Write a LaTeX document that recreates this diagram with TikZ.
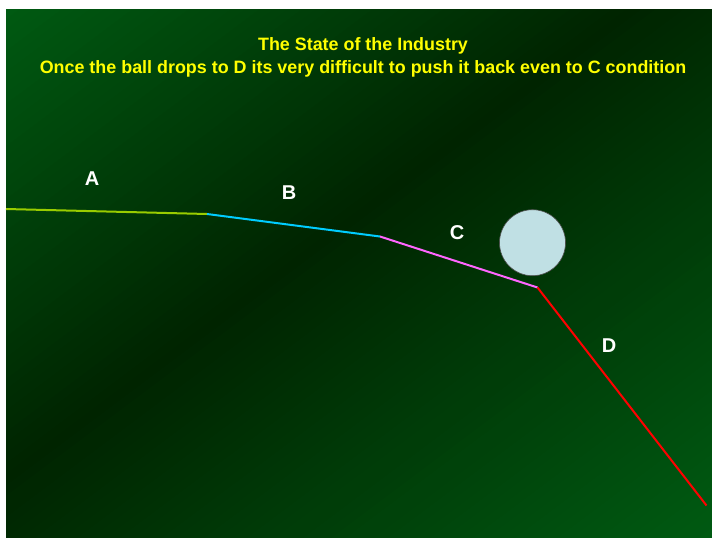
\documentclass[tikz,border=0pt]{standalone}
\usepackage{fontspec}
\setmainfont{Liberation Sans}
\definecolor{bgbright}{RGB}{0,90,18}
\definecolor{bgdark}{RGB}{0,36,0}
\definecolor{segA}{RGB}{153,204,0}
\definecolor{segB}{RGB}{0,204,255}
\definecolor{segC}{RGB}{255,102,255}
\definecolor{segD}{RGB}{255,0,0}
\definecolor{ballfill}{RGB}{192,224,228}
\definecolor{titleyellow}{RGB}{255,255,0}
\begin{document}
\begin{tikzpicture}[x=1pt,y=-1pt,
  seg/.style={line width=2pt},
  lab/.style={text=white,font=\bfseries\fontsize{20}{24}\selectfont,inner sep=0pt},
  ttl/.style={text=titleyellow,font=\bfseries\fontsize{17.9}{21}\selectfont,inner sep=0pt,align=center}]
\useasboundingbox (0,0) rectangle (712,538);
\fill[white] (0,0) rectangle (712,538);
\begin{scope}[shift={(6pt,-9pt)},x=706pt,y=-529pt]
  \clip (0,0) rectangle (1,1);
  \foreach \i in {0,...,99}{
    \pgfmathsetmacro{\ua}{\i*0.02}
    \pgfmathsetmacro{\ub}{\ua+0.026}
    \pgfmathsetmacro{\um}{\ua+0.01}
    \pgfmathsetmacro{\p}{\um<0.88 ? 100*(1-\um/0.88) : 100*(\um-0.88)/1.12}
    \fill[bgbright!\p!bgdark] (\ua+1,-1) -- (\ub+1,-1) -- (\ub-2,2) -- (\ua-2,2) -- cycle;
  }
\end{scope}
\node[ttl] (t1) at (363,46) {The State of the Industry};
\node[ttl] (t2) at (363,68.5) {Once the ball drops to D its very difficult to push it back even to C condition};
\coordinate (p0) at (6,209);
\coordinate (p1) at (207,214);
\coordinate (p2) at (380,236.5);
\coordinate (p3) at (537.5,287.5);
\coordinate (p4) at (706.5,505.5);
\draw[seg,segA] (p0) -- (p1);
\draw[seg,segB] (p1) -- (p2);
\draw[seg,segC] (p2) -- (p3);
\draw[seg,segD] (p3) -- (p4);
\node[circle,fill=ballfill,draw=black!70,line width=0.6pt,minimum size=66pt,inner sep=0pt] (ball) at (532.5,242.7) {};
\node[lab] (la) at (92,179) {A};
\node[lab] (lb) at (289,193) {B};
\node[lab] (lc) at (457,233) {C};
\node[lab] (ld) at (609,346) {D};
\end{tikzpicture}
\end{document}
